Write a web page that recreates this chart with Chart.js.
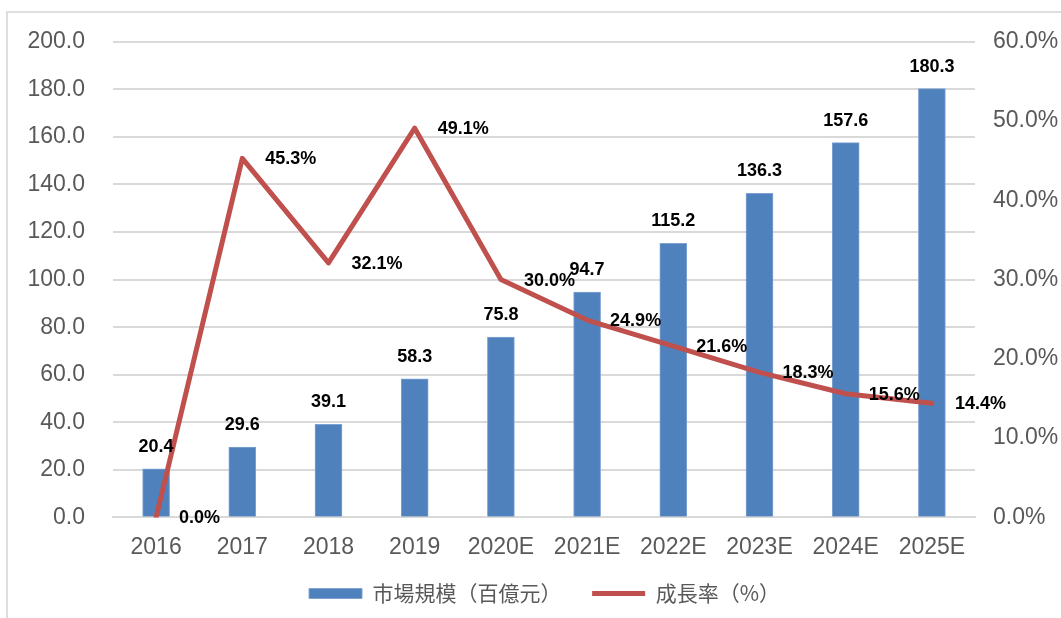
<!DOCTYPE html>
<html>
<head>
<meta charset="utf-8">
<script src="https://cdn.jsdelivr.net/npm/chart.js@4.4.1/dist/chart.umd.min.js"></script>
<style>
    body { margin: 0; background: #fff; }
    #moldura { position: absolute; left: 6px; top: 11px; width: 1100px; height: 700px; border: 2px solid #dedede; }
    #area { position: absolute; left: 0; top: 0; width: 1061px; height: 618px; }
</style>
</head>
<body>
<div id="moldura"></div>
<div id="area"><canvas id="grafico" width="1061" height="618"></canvas></div>
<script>
// Dados do gráfico
const anos = ['2016', '2017', '2018', '2019', '2020E', '2021E', '2022E', '2023E', '2024E', '2025E'];
const mercado = [20.4, 29.6, 39.1, 58.3, 75.8, 94.7, 115.2, 136.3, 157.6, 180.3];
const crescimento = [0.0, 45.3, 32.1, 49.1, 30.0, 24.9, 21.6, 18.3, 15.6, 14.4];
const nomeBarras = '市場規模（百億元）';
const nomeLinha = '成長率（%）';

const corTexto = '#595959';
const corGrade = '#d9d9d9';
const fonteEixo = '"Liberation Sans", Arial, sans-serif';

// Rótulos de dados (não há plugin datalabels disponível)
const rotulos = {
    id: 'rotulos',
    afterDatasetsDraw(chart) {
        const ctx = chart.ctx;
        ctx.save();
        ctx.font = 'bold 18px ' + fonteEixo;
        ctx.fillStyle = '#000';
        ctx.textBaseline = 'middle';

        // barras: valor centralizado acima
        ctx.textAlign = 'center';
        chart.getDatasetMeta(0).data.forEach(function (bar, i) {
            ctx.fillText(mercado[i].toFixed(1), bar.x, bar.y - 22);
        });

        // linha: valor à direita do ponto
        ctx.textAlign = 'left';
        chart.getDatasetMeta(1).data.forEach(function (pt, i) {
            ctx.fillText(crescimento[i].toFixed(1) + '%', pt.x + 23, pt.y + 1);
        });
        ctx.restore();
    }
};

const ctx = document.getElementById('grafico').getContext('2d');
new Chart(ctx, {
    data: {
        labels: anos,
        datasets: [{
            type: 'bar',
            label: nomeBarras,
            data: mercado,
            yAxisID: 'y',
            backgroundColor: '#4F81BD',
            borderColor: '#7fa3d1',
            borderWidth: 1,
            barThickness: 27,
            pointStyle: 'rect',
            order: 1
        }, {
            type: 'line',
            label: nomeLinha,
            data: crescimento,
            yAxisID: 'y1',
            borderColor: '#C0504D',
            backgroundColor: '#C0504D',
            borderWidth: 5,
            borderCapStyle: 'round',
            borderJoinStyle: 'round',
            pointRadius: 0,
            pointHoverRadius: 0,
            pointStyle: 'line',
            tension: 0,
            order: 0
        }]
    },
    options: {
        responsive: false,
        animation: false,
        layout: { padding: { top: 32, bottom: 4, left: 28, right: 0 } },
        scales: {
            x: {
                grid: { display: false, drawTicks: false },
                border: { display: true, color: corGrade, width: 2 },
                ticks: {
                    color: corTexto,
                    font: { family: fonteEixo, size: 23 },
                    padding: 16,
                    maxRotation: 0,
                    autoSkip: false
                }
            },
            y: {
                position: 'left',
                min: 0,
                max: 200,
                ticks: {
                    stepSize: 20,
                    color: corTexto,
                    font: { family: fonteEixo, size: 23 },
                    padding: 28,
                    callback: v => v.toFixed(1)
                },
                grid: { color: corGrade, lineWidth: 2, drawTicks: false },
                border: { display: false },
                afterFit: scale => { scale.width = 85; }
            },
            y1: {
                position: 'right',
                min: 0,
                max: 60,
                ticks: {
                    stepSize: 10,
                    color: corTexto,
                    font: { family: fonteEixo, size: 23 },
                    padding: 18,
                    callback: v => v.toFixed(1) + '%'
                },
                grid: { drawOnChartArea: false, drawTicks: false },
                border: { display: false },
                afterFit: scale => { scale.width = 86; }
            }
        },
        plugins: {
            legend: {
                position: 'bottom',
                labels: {
                    usePointStyle: true,
                    pointStyleWidth: 53,
                    boxHeight: 10,
                    padding: 6,
                    color: corTexto,
                    font: { family: '"Noto Sans CJK JP", sans-serif', size: 21 },
                    sort: (a, b) => a.datasetIndex - b.datasetIndex,
                    generateLabels: function (chart) {
                        const itens = Chart.defaults.plugins.legend.labels.generateLabels(chart);
                        // espaço extra entre os dois itens da legenda
                        itens.forEach(function (item) {
                            if (item.datasetIndex === 0) item.text = item.text + '\u3000   ';
                        });
                        return itens;
                    }
                }
            },
            tooltip: { enabled: false }
        }
    },
    plugins: [rotulos]
});
</script>
</body>
</html>
